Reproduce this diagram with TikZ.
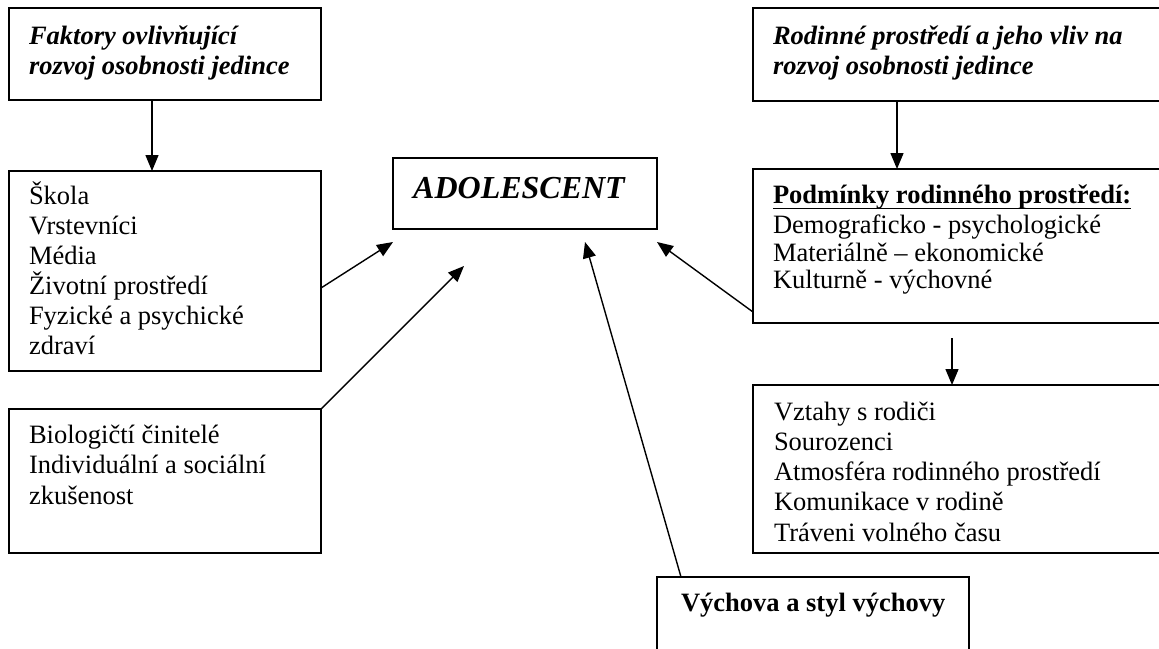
\documentclass[tikz,border=0pt]{standalone}
\usepackage{fontspec}
\setmainfont{Liberation Serif}
\usetikzlibrary{arrows.meta}
\begin{document}
\begin{tikzpicture}[x=1pt,y=-1pt,
  box/.style={draw, line width=1.8pt, rectangle, inner sep=0pt, outer sep=0pt, anchor=north west},
  txt/.style={anchor=base west, inner sep=0pt, outer sep=0pt, font=\fontsize{26.5}{30}\selectfont},
  hdr/.style={txt, font=\fontsize{26.5}{30}\selectfont\bfseries\itshape},
  arr/.style={line width=1.4pt, -{Triangle[length=16pt,width=13pt]}},
  conn/.style={line width=1.4pt}]
\useasboundingbox (0,0) rectangle (1159,648);
\clip (0,0) rectangle (1159,648);
\fill[white] (0,0) rectangle (1159,648);
% boxes
\node[box, minimum width=312pt, minimum height=92pt] (A) at (9,8) {};
\node[box, minimum width=430pt, minimum height=93pt] (B) at (753,8) {};
\node[box, minimum width=312pt, minimum height=200pt] (C) at (9,171) {};
\node[box, minimum width=264pt, minimum height=71pt] (D) at (393,158) {};
\node[box, minimum width=430pt, minimum height=154pt] (E) at (753,169) {};
\node[box, minimum width=430pt, minimum height=168pt] (F) at (753,385) {};
\node[box, minimum width=312pt, minimum height=100pt] (G) at (657,577) {};
\node[box, minimum width=312pt, minimum height=144pt] (H) at (9,409) {};
% texts
\node[hdr] (a1) at (29,44) {Faktory ovlivňující};
\node[hdr] (a2) at (29,74) {rozvoj osobnosti jedince};
\node[hdr] (b1) at (773,44) {Rodinné prostředí a jeho vliv na};
\node[hdr] (b2) at (773,74) {rozvoj osobnosti jedince};
\foreach \t [count=\i] in {Škola, Vrstevníci, Média, Životní prostředí, Fyzické a psychické, zdraví}
  \node[txt] (c\i) at (29,{174+30*\i}) {\t};
\node[anchor=base west, inner sep=0pt, font=\fontsize{32}{36}\selectfont\bfseries\itshape] (d1) at (413,198) {ADOLESCENT};
\node[txt, font=\fontsize{26.5}{30}\selectfont\bfseries] (e1) at (773,203) {Podmínky rodinného prostředí:};
\draw[line width=1.8pt] ([yshift=-5.5pt]e1.base west) -- ([yshift=-5.5pt]e1.base east);
\node[txt] (e2) at (773,233) {Demograficko - psychologické};
\node[txt] (e3) at (773,261) {Materiálně – ekonomické};
\node[txt] (e4) at (773,288) {Kulturně - výchovné};
\foreach \t [count=\i] in {Vztahy s rodiči, Sourozenci, Atmosféra rodinného prostředí, Komunikace v rodině, Tráveni volného času}
  \node[txt] (f\i) at (774,{390+30.2*\i}) {\t};
\node[txt, font=\fontsize{26.5}{30}\selectfont\bfseries] (g1) at (681,611) {Výchova a styl výchovy};
\foreach \t [count=\i] in {Biologičtí činitelé, Individuální a sociální, zkušenost}
  \node[txt] (h\i) at (29,{412.3+30.8*\i}) {\t};
% connectors
\draw[arr] ([xshift=143pt]A.south west) -- ([xshift=143pt]C.north west);
\draw[arr] ([xshift=144pt]B.south west) -- ([xshift=144pt]E.north west);
\draw[arr] ([xshift=199pt,yshift=-15pt]E.south west) -- ([xshift=199pt]F.north west);
\draw[arr] ([yshift=-117pt]C.north east) -- ([yshift=-13pt]D.south west);
\draw[arr] (H.north east) -- ([xshift=71pt,yshift=-37pt]D.south west);
\draw[arr] ([xshift=24pt]G.north west) -- ([xshift=192pt,yshift=-13pt]D.south west);
\draw[arr] ([yshift=-143pt]E.north west) -- ([yshift=-13pt]D.south east);
\end{tikzpicture}
\end{document}
